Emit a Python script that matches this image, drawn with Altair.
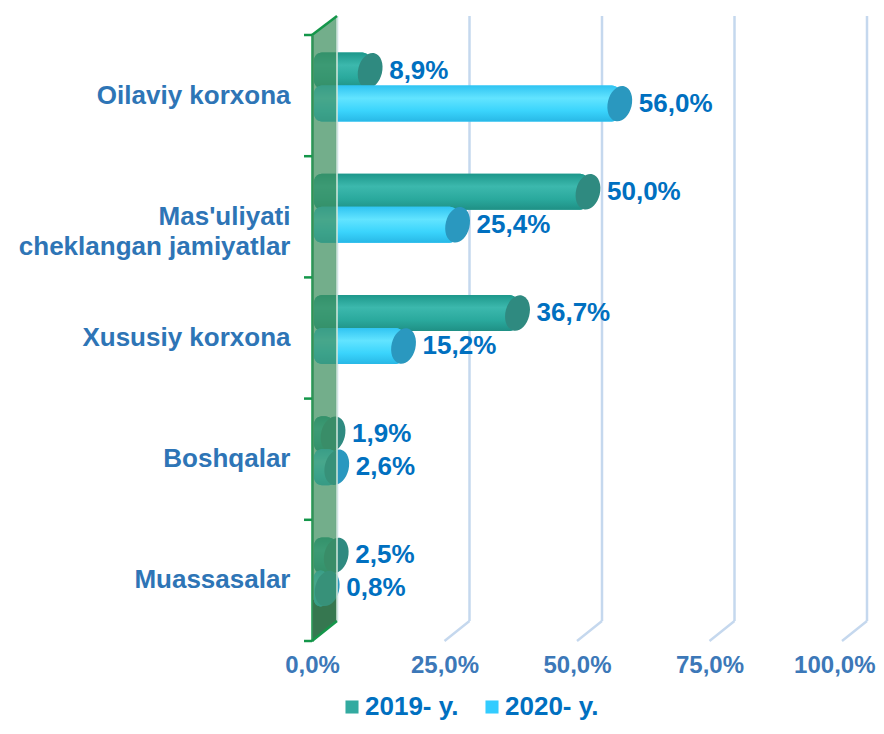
import altair as alt
import pandas as pd

categories = ["Oilaviy korxona", "Mas'uliyati cheklangan jamiyatlar", "Xususiy korxona", "Boshqalar", "Muassasalar"]
series = ["2019- y.", "2020- y."]
values_2019 = [8.9, 50.0, 36.7, 1.9, 2.5]
values_2020 = [56.0, 25.4, 15.2, 2.6, 0.8]
x_ticks = [0, 25, 50, 75, 100]


def fmt(v):
    return f"{v:.1f}".replace(".", ",") + "%"


rows = []
for c, a, b in zip(categories, values_2019, values_2020):
    rows.append({"cat": c, "series": series[0], "value": a, "label": fmt(a)})
    rows.append({"cat": c, "series": series[1], "value": b, "label": fmt(b)})
df = pd.DataFrame(rows)
cat_df = pd.DataFrame({"cat": categories})
grid_df = pd.DataFrame({"v": x_ticks})
one = pd.DataFrame({"k": [0]})

W, H = 530, 606
DEPTH_X, DEPTH_Y = 25, 20
OFFS = {series[0]: -25, series[1]: 8}
FONT = "Liberation Sans"
GREEN = "#14964a"

xscale = alt.Scale(domain=[0, 100], nice=False, zero=True)
yscale = alt.Scale(domain=categories, paddingInner=0, paddingOuter=0)

x_axis = alt.Axis(
    values=x_ticks, grid=False, ticks=False, domain=False,
    labelExpr="replace(format(datum.value, '.1f'), '.', ',') + '%'",
    labelFont=FONT, labelFontSize=24, labelFontWeight="bold", labelColor="#3c78b8",
    labelPadding=12, labelFlush=False, labelOverlap=False,
    labelAlign={"condition": {"test": "datum.value == 100", "value": "right"}, "value": "center"},
    labelOffset={"condition": {"test": "datum.value == 100", "value": 33}, "value": 0},
    title=None,
)
y_axis = alt.Axis(
    grid=False, ticks=False, domain=True, domainColor=GREEN, domainWidth=2.5,
    labelFont=FONT, labelFontSize=26, labelFontWeight="bold", labelColor="#2e75b6",
    labelPadding=22, labelLimit=500, labelLineHeight=30,
    labelExpr="indexof(datum.label, 'cheklangan') >= 0 ? [slice(datum.label, 0, 11), slice(datum.label, 12)] : datum.label",
    title=None,
)

X = lambda f: alt.X(f, scale=xscale, axis=x_axis)
Y = lambda: alt.Y("cat:N", scale=yscale, axis=y_axis, sort=categories)

layers = []

# back gridlines (3D offset)
layers.append(
    alt.Chart(grid_df).mark_rule(xOffset=DEPTH_X, color="#c5d8ee", strokeWidth=2.5).encode(
        x=X("v:Q"), y=alt.value(-DEPTH_Y + 1), y2=alt.value(H - DEPTH_Y)
    )
)
layers.append(
    alt.Chart(grid_df).transform_filter("datum.v > 0").mark_rule(
        xOffset=DEPTH_X, x2Offset=0, color="#c5d8ee", strokeWidth=2.5
    ).encode(x=X("v:Q"), x2="v:Q", y=alt.value(H - DEPTH_Y), y2=alt.value(H))
)

# dark shadow at the bottom of the wall
dark_path = "M-0.52,-0.78 L0.52,-1 L0.52,0.13 L-0.52,1 Z"
layers.append(
    alt.Chart(one).mark_point(shape=dark_path, size=2116, filled=True, fill="#243a2c",
                              opacity=1, strokeWidth=0).encode(x=alt.value(13), y=alt.value(583))
)

color_scale = alt.Scale(domain=series, range=["#33aaa0", "#33ccff"])
grads = {
    series[0]: [("#1d988b", 0), ("#3cb8ad", 0.35), ("#2aa99d", 0.7), ("#1f9085", 1)],
    series[1]: [("#30c4f2", 0), ("#62e4ff", 0.35), ("#3ad4fc", 0.7), ("#28b8e6", 1)],
}
caps = {series[0]: "#2f8a80", series[1]: "#2a98bf"}
ellipse = ("M0,-1 C0.368,-1 0.667,-0.552 0.667,0 C0.667,0.552 0.368,1 0,1 "
           "C-0.368,1 -0.667,0.552 -0.667,0 C-0.667,-0.552 -0.368,-1 0,-1 Z")

for s in series:
    base = alt.Chart(df).transform_filter(alt.datum.series == s)
    off = OFFS[s]
    layers.append(
        base.mark_bar(height=36, yOffset=off, xOffset=11, x2Offset=2, cornerRadius=8).encode(
            y=Y(), x=X("value:Q"), x2=alt.datum(0),
            color=alt.Color("series:N", scale=color_scale, title=None),
        )
    )
    layers.append(
        base.mark_bar(height=36, yOffset=off, xOffset=11, x2Offset=2, cornerRadius=8,
                      fill=alt.Gradient(gradient="linear", x1=0, x2=0, y1=0, y2=1,
                                        stops=[alt.GradientStop(color=c, offset=o) for c, o in grads[s]])).encode(
            y=Y(), x=X("value:Q"), x2=alt.datum(0)
        )
    )
    layers.append(
        base.mark_point(shape=ellipse, size=1296, filled=True, fill=caps[s], opacity=1,
                        strokeWidth=0, angle=14, xOffset=11, yOffset=off).encode(
            y=Y(), x=X("value:Q")
        )
    )

# translucent green side wall
wall_path = "M-0.04,-0.9392 L0.04,-1 L0.04,0.936 L-0.04,1 Z"
layers.append(
    alt.Chart(one).mark_point(shape=wall_path, size=390625, filled=True, fill="#3d8f5e",
                              opacity=0.72, strokeWidth=0).encode(x=alt.value(12.5), y=alt.value(293.5))
)
layers.append(
    alt.Chart(one).mark_rule(color="#d4e8dc", strokeWidth=1.5).encode(
        x=alt.value(DEPTH_X), y=alt.value(-DEPTH_Y + 1), y2=alt.value(H - DEPTH_Y))
)

# green axis ticks and wall edges
layers.append(
    alt.Chart(cat_df).mark_rule(color=GREEN, strokeWidth=2.5).encode(
        y=alt.Y("cat:N", scale=yscale, axis=y_axis, sort=categories, bandPosition=0),
        x=alt.value(-8), x2=alt.value(0),
    )
)
layers.append(alt.Chart(one).mark_rule(color=GREEN, strokeWidth=2.5).encode(
    x=alt.value(-8), x2=alt.value(0), y=alt.value(H)))
layers.append(alt.Chart(one).mark_rule(color=GREEN, strokeWidth=2.5).encode(
    x=alt.value(0), x2=alt.value(DEPTH_X), y=alt.value(0), y2=alt.value(-DEPTH_Y + 1)))
layers.append(alt.Chart(one).mark_rule(color=GREEN, strokeWidth=2.5).encode(
    x=alt.value(0), x2=alt.value(DEPTH_X), y=alt.value(H), y2=alt.value(H - DEPTH_Y)))

# value labels
for s in series:
    layers.append(
        alt.Chart(df).transform_filter(alt.datum.series == s).mark_text(
            align="left", baseline="middle", dx=30, yOffset=OFFS[s], fontSize=26,
            fontWeight="bold", font=FONT, color="#0070c0"
        ).encode(y=Y(), x=X("value:Q"), text="label:N")
    )

chart = alt.layer(*layers).properties(
    width=W, height=H,
    autosize=alt.AutoSizeParams(type="none"),
    padding={"left": 304, "top": 27, "right": 34, "bottom": 85},
).configure_view(stroke=None).configure_legend(
    orient="none", legendX=27, legendY=659, direction="horizontal",
    symbolType="square", symbolSize=170, symbolStrokeWidth=0, symbolOpacity=1,
    labelFont=FONT, labelFontSize=26, labelFontWeight="bold", labelColor="#0070c0",
    labelOffset=0, columnPadding=20, padding=0,
)

chart.save("out.html", embed_options={"renderer": "svg", "actions": False})
